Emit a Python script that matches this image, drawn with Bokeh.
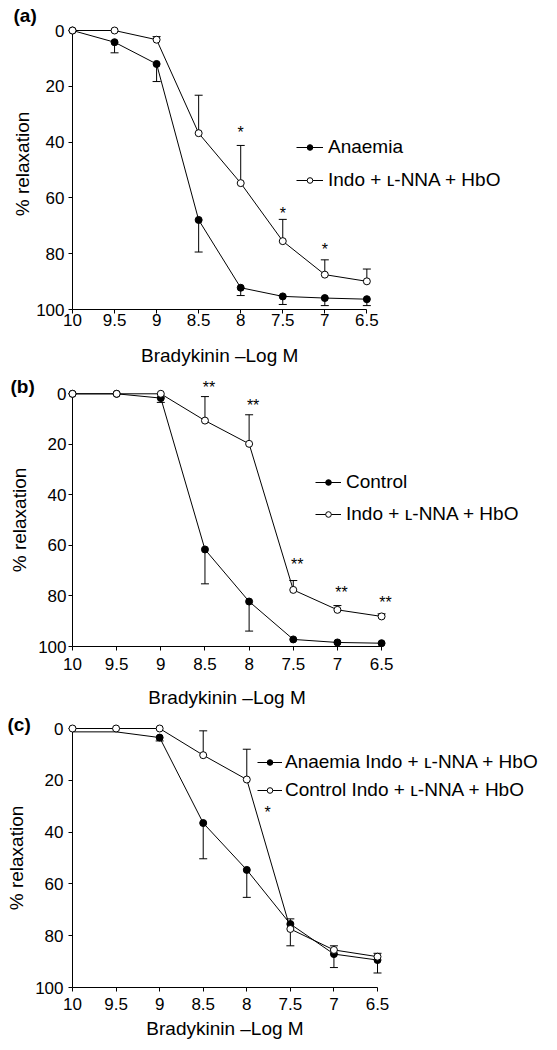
from bokeh.plotting import figure
from bokeh.models import Range1d, FixedTicker, Legend, LegendItem
from bokeh.layouts import column
from bokeh.embed import file_html
from bokeh.resources import INLINE
from bokeh.core.properties import value

# ---------------- data ----------------
doses = [10, 9.5, 9, 8.5, 8, 7.5, 7, 6.5]
dose_labels = ["10", "9.5", "9", "8.5", "8", "7.5", "7", "6.5"]
y_ticks = [0, 20, 40, 60, 80, 100]

# error values: positive = bar drawn toward 100, negative = toward 0
# Panel (a)
a_anaemia = [0, 4.2, 12.0, 67.9, 92.2, 95.3, 95.9, 96.3]
a_anaemia_err = [0, 3.8, 6.3, 11.5, 2.8, 2.9, 2.7, 2.3]
a_indo = [0, 0, 3.3, 36.8, 54.7, 75.5, 87.5, 89.9]
a_indo_err = [0, 0, -1.1, -13.6, -13.5, -7.8, -5.3, -4.4]
a_star_x = [8, 7.5, 7]
a_star_y = [35, 64, 77]
a_star_text = ["*", "*", "*"]

# Panel (b)
b_control = [0, 0, 1.7, 61.6, 82.2, 97.2, 98.4, 98.7]
b_control_err = [0, 0, 1.7, 13.6, 11.7, 0, 0, 0]
b_indo = [0, 0, 0, 10.6, 19.8, 77.6, 85.5, 88.1]
b_indo_err = [0, 0, 0, -9.5, -11.5, -3.7, -1.7, -1.0]
b_star_x = [8.5, 8, 7.5, 7, 6.5]
b_star_y = [-4, 3, 66, 77, 81]
b_star_text = ["**", "**", "**", "**", "**"]

# Panel (c)
c_anaemia_indo = [1.3, 1.3, 3.5, 36.5, 54.6, 75.5, 87.1, 89.4]
c_anaemia_indo_err = [0, 0, 1.3, 13.8, 10.6, -2.0, 5.2, 5.0]
c_anaemia_indo_marked = [False, False, True, True, True, True, True, True]
c_control_indo = [0, 0, 0, 10.3, 19.7, 77.4, 85.5, 88.1]
c_control_indo_err = [0, 0, 0, -9.4, -11.7, 6.5, -1.6, -1.3]
c_star_x = [7.76]
c_star_y = [31]
c_star_text = ["*"]

x_title = "Bradykinin \u2013Log M"
y_title = "% relaxation"

FONT = "Liberation Sans"
W = 557


def make_panel(H, X10, X65, Y0, Y100, top, series, tag, tag_dx, tag_dy, leg_left, leg_row1,
               leg_spacing, leg_glyph_w, leg_standoff, stars, star_dx, title_dy, xcfg, ycfg):
    sx = (X65 - X10) / (doses[0] - doses[-1])
    sy = (Y100 - Y0) / 100.0
    y_top = -(Y0 - top) / sy
    x_end = doses[0] - (W - X10) / sx
    p = figure(width=W, height=H, x_range=Range1d(doses[0], x_end), y_range=Range1d(100, y_top),
               output_backend="svg", toolbar_location=None,
               min_border_left=int(X10), min_border_right=0,
               min_border_top=int(top), min_border_bottom=int(H - Y100))
    p.outline_line_color = None
    p.xgrid.visible = False
    p.ygrid.visible = False
    p.background_fill_color = "white"

    xa = p.xaxis[0]
    ya = p.yaxis[0]
    xa.ticker = FixedTicker(ticks=doses)
    xa.major_label_overrides = {d: l for d, l in zip(doses, dose_labels)}
    xa.bounds = (doses[-1], doses[0])
    ya.ticker = FixedTicker(ticks=y_ticks)
    ya.bounds = (y_ticks[0], y_ticks[-1])
    ya.axis_label = y_title
    for ax, cfg in ((xa, xcfg), (ya, ycfg)):
        ax.axis_line_color = "black"
        ax.axis_line_width = 1
        ax.major_tick_line_color = "black"
        ax.major_tick_in = 0
        ax.major_tick_out = cfg[0]
        ax.minor_tick_in = 0
        ax.minor_tick_out = 0
        ax.major_label_standoff = cfg[1]
        ax.axis_label_standoff = cfg[2]
        ax.major_label_text_font = FONT
        ax.major_label_text_font_size = "17px"
        ax.major_label_text_color = "black"
        ax.axis_label_text_font = FONT
        ax.axis_label_text_font_size = "19px"
        ax.axis_label_text_font_style = "normal"
        ax.axis_label_text_color = "black"

    items = []
    for ys, errs, fill, label, marked in series:
        ln = p.line(doses, ys, line_color="black", line_width=1, level="overlay")
        ex = [d for d, e in zip(doses, errs) if e != 0]
        ey0 = [y for y, e in zip(ys, errs) if e != 0]
        ey1 = [y + e for y, e in zip(ys, errs) if e != 0]
        p.segment(x0=ex, y0=ey0, x1=ex, y1=ey1, line_color="black", line_width=1, level="overlay")
        p.scatter(ex, ey1, marker="dash", size=8, line_color="black", line_width=1, level="overlay")
        if marked is None:
            marked = [True] * len(doses)
        mx = [d for d, m in zip(doses, marked) if m]
        my = [y for y, m in zip(ys, marked) if m]
        mk = p.scatter(mx, my, marker="circle", size=7, fill_color=fill, line_color="black",
                       line_width=1, level="overlay")
        items.append(LegendItem(label=label, renderers=[ln, mk]))

    item_h = 21
    leg_h = 2 * item_h + leg_spacing
    leg_top = leg_row1 - item_h / 2.0
    leg = Legend(items=items, location=(leg_left - X10, Y100 - (leg_top + leg_h)),
                 glyph_width=leg_glyph_w, glyph_height=14, label_standoff=leg_standoff,
                 label_text_font=FONT, label_text_font_size="19px", label_height=item_h,
                 label_text_color="black", spacing=leg_spacing, padding=0, margin=0,
                 border_line_alpha=0, background_fill_alpha=0)
    p.add_layout(leg)

    stx, sty, stt = stars
    p.text(x=stx, y=sty, text=stt, text_font=value(FONT), text_font_size="16px",
           text_align="center", text_baseline="middle", x_offset=star_dx, y_offset=4,
           text_color="black", level="overlay")

    # x-axis title, centred under the axis
    p.text(x=[(doses[0] + doses[-1]) / 2.0], y=[y_ticks[-1]], text=[x_title],
           text_font=value(FONT), text_font_size="19px", text_align="center",
           text_baseline="middle", y_offset=title_dy, text_color="black", level="overlay")

    # panel tag
    p.text(x=[doses[0]], y=[y_ticks[0]], text=[tag], text_font=value(FONT),
           text_font_size="19px", text_font_style="bold", text_align="left",
           text_baseline="middle", x_offset=tag_dx, y_offset=tag_dy,
           text_color="black", level="overlay")
    return p


pa = make_panel(370, 66, 364, 30, 309, 18,
                [(a_anaemia, a_anaemia_err, "black", "Anaemia", None),
                 (a_indo, a_indo_err, "white", "Indo + \u029f-NNA + HbO", None)],
                "(a)", -59, -14.7, 290, 148, 11, 27, 5,
                (a_star_x, a_star_y, a_star_text), 0, 45.8,
                (4, 0, 14), (4, 4, 0))

pb = make_panel(340, 69, 380, 23.3, 276, 23,
                [(b_control, b_control_err, "black", "Control", None),
                 (b_indo, b_indo_err, "white", "Indo + \u029f-NNA + HbO", None)],
                "(b)", -62, -7.1, 312, 113, 10, 26, 5,
                (b_star_x, b_star_y, b_star_text), 4, 50.8,
                (4, 7, 11), (4, 2, 5))

pc = make_panel(340, 72, 377, 18, 277, 18,
                [(c_anaemia_indo, c_anaemia_indo_err, "black", "Anaemia Indo + \u029f-NNA + HbO",
                  c_anaemia_indo_marked),
                 (c_control_indo, c_control_indo_err, "white", "Control Indo + \u029f-NNA + HbO", None)],
                "(c)", -65, -4.5, 257, 53, 6, 25, 3,
                (c_star_x, c_star_y, c_star_text), 0, 41.1,
                (4, 6, 2), (4, 5, 5))

layout = column(pa, pb, pc, spacing=0)
open("out.html", "w").write(file_html(layout, INLINE))
